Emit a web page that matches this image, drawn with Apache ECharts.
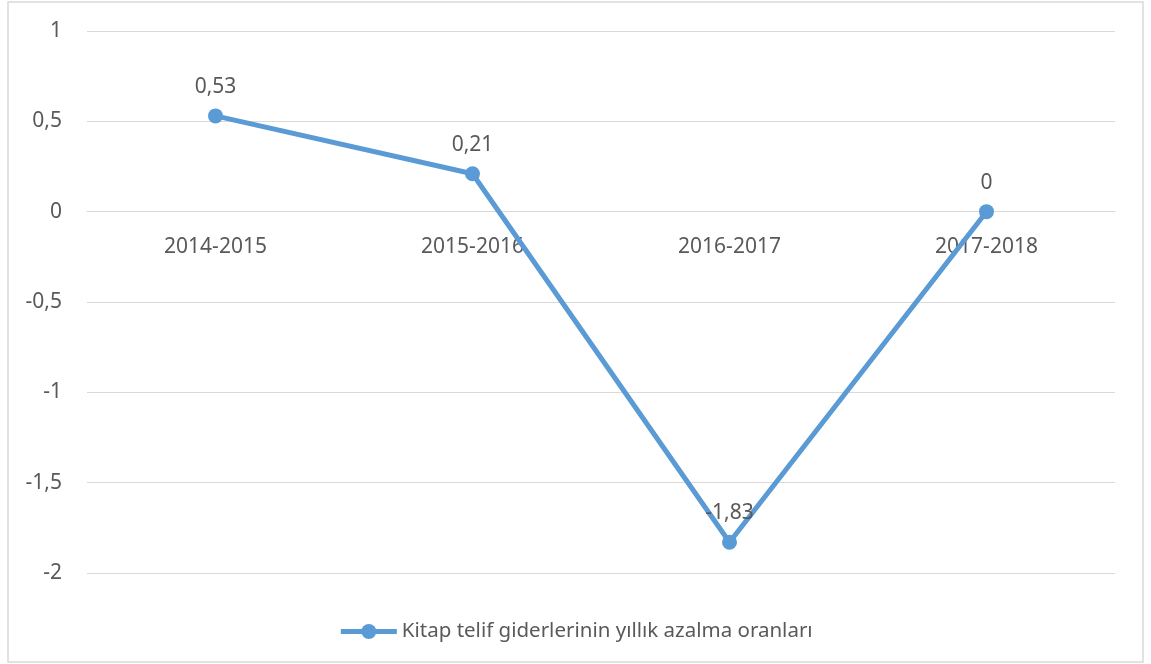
<!DOCTYPE html>
<html>
<head>
<meta charset="utf-8">
<script src="https://cdn.jsdelivr.net/npm/echarts@6/dist/echarts.min.js"></script>
<style>
  html, body { margin: 0; padding: 0; background: #fff; }
  #chart { width: 1151px; height: 664px; }
</style>
</head>
<body>
<div id="chart"></div>
<script>
// Yearly periods and the rate of decrease in book royalty expenses
const categories = ['2014-2015', '2015-2016', '2016-2017', '2017-2018'];
const rates = [0.53, 0.21, -1.83, 0];
const seriesName = 'Kitap telif giderlerinin yıllık azalma oranları';

const yMin = -2, yMax = 1, yStep = 0.5;

const textColor = '#595959';
const lineColor = '#5b9bd5';
const gridColor = '#d9d9d9';
const fontFamily = '"Noto Sans", "Open Sans", sans-serif';

const gridTop = 31, gridBottom = 91, chartHeight = 664;
// Distance from the bottom of the plot up to the zero line, so the category axis sits on y = 0
const plotHeight = chartHeight - gridTop - gridBottom;
const zeroOffset = -plotHeight * (0 - yMin) / (yMax - yMin);

const toComma = v => String(v).replace('.', ',');

const chart = echarts.init(document.getElementById('chart'), null, { renderer: 'canvas' });
chart.setOption({
  animation: false,
  backgroundColor: '#fff',
  textStyle: { fontFamily: fontFamily, color: textColor },
  graphic: [{
    type: 'rect',
    shape: { x: 8, y: 2, width: 1135, height: 660 },
    style: { fill: 'none', stroke: gridColor, lineWidth: 1.5 },
    silent: true
  }],
  grid: { left: 87, right: 36, top: gridTop, bottom: gridBottom },
  legend: {
    bottom: 17,
    left: 'center',
    itemWidth: 56,
    itemHeight: 19,
    itemGap: 8,
    textStyle: { fontSize: 20.5, color: textColor, fontFamily: fontFamily },
    lineStyle: { width: 5, color: lineColor },
    data: [seriesName]
  },
  xAxis: {
    type: 'category',
    data: categories,
    boundaryGap: true,
    position: 'bottom',
    offset: zeroOffset,
    axisLine: { show: true, onZero: false, lineStyle: { color: gridColor, width: 1 } },
    axisTick: { show: false },
    axisLabel: { fontSize: 21, color: textColor, margin: 25, fontFamily: fontFamily },
    splitLine: { show: false }
  },
  yAxis: {
    type: 'value',
    min: yMin,
    max: yMax,
    interval: yStep,
    axisLine: { show: false },
    axisTick: { show: false },
    axisLabel: {
      fontSize: 21, color: textColor, margin: 25, fontFamily: fontFamily,
      formatter: v => toComma(v)
    },
    splitLine: { lineStyle: { color: gridColor, width: 1 } }
  },
  series: [{
    name: seriesName,
    type: 'line',
    data: rates,
    symbol: 'circle',
    symbolSize: 15,
    itemStyle: { color: lineColor },
    lineStyle: { color: lineColor, width: 5 },
    label: {
      show: true,
      position: 'top',
      distance: 11,
      fontSize: 21,
      color: textColor,
      fontFamily: fontFamily,
      formatter: p => toComma(p.value)
    },
    z: 3
  }]
});
</script>
</body>
</html>
